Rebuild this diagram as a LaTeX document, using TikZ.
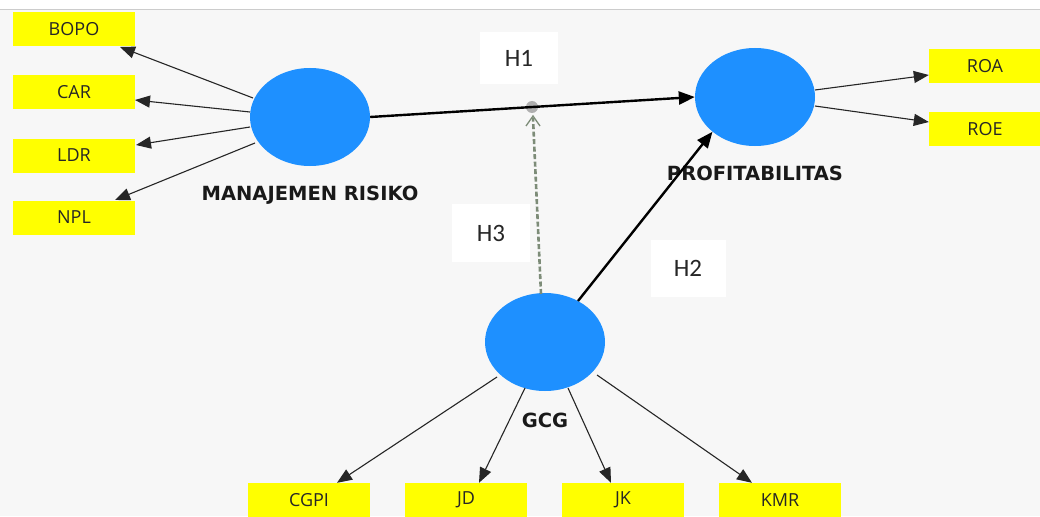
\documentclass[tikz,border=0pt]{standalone}
\usepackage{fontspec}
\setmainfont{Open Sans}
\newfontfamily\hfont{Carlito}
\newfontfamily\lfont{DejaVu Sans}
\usetikzlibrary{arrows.meta,shapes.geometric}
\definecolor{bg}{RGB}{247,247,247}
\definecolor{lv}{RGB}{30,144,255}
\definecolor{ybox}{RGB}{255,255,0}
\definecolor{dashc}{RGB}{125,140,120}
\definecolor{dotc}{RGB}{175,175,175}
\tikzset{
  ind/.style={fill=ybox, draw=none, minimum width=122pt, minimum height=34pt, inner sep=0pt, font=\fontsize{18}{20}\selectfont, text=black!85},
  lv/.style={ellipse, fill=lv, draw=none, minimum width=120pt, minimum height=98pt, inner sep=0pt},
  lvlabel/.style={font=\lfont\fontsize{19.5}{22}\selectfont\bfseries, text=black!90},
  hbox/.style={fill=white, draw=none, inner sep=0pt, font=\hfont\fontsize{25}{28}\selectfont, text=black!85},
  ld/.style={draw=black!85, line width=1.1pt, -{Triangle[length=15pt,width=12pt]}},
  pth/.style={draw=black, line width=2.4pt, -{Triangle[length=16pt,width=13pt]}},
}
\begin{document}
\begin{tikzpicture}[x=1pt,y=-1pt]
\useasboundingbox (0,0) rectangle (1040,516);
\fill[white] (0,0) rectangle (1040,10);
\fill[bg] (0,10) rectangle (1040,516);
\draw[black!20, line width=1pt] (0,10) -- (1040,10);

% indicator boxes
\node[ind] (bopo) at (74,29.5) {BOPO};
\node[ind] (car) at (74,92.5) {CAR};
\node[ind] (ldr) at (74,155.5) {LDR};
\node[ind] (npl) at (74,217.5) {NPL};
\node[ind, minimum width=112pt] (roa) at (985,66) {ROA};
\node[ind, minimum width=112pt] (roe) at (985,129) {ROE};
\node[ind] (cgpi) at (309,500) {CGPI};
\node[ind] (jd) at (466,500) {JD};
\node[ind] (jk) at (623,500) {JK};
\node[ind] (kmr) at (780,500) {KMR};

% hypothesis boxes
\node[hbox, minimum width=78pt, minimum height=52pt] (h1) at (519,58) {H1};
\node[hbox, minimum width=78pt, minimum height=58pt] (h3) at (491,233) {H3};
\node[hbox, minimum width=75pt, minimum height=57pt] (h2) at (688,268) {H2};

% latent variables
\node[lv] (mr) at (310,117) {};
\node[lv] (prof) at (755,97) {};
\node[lv] (gcg) at (545,342) {};
\node[lvlabel] (mrl) at (310,195) {MANAJEMEN RISIKO};
\node[lvlabel] (profl) at (755,173) {PROFITABILITAS};
\node[lvlabel] (gcgl) at (545,420) {GCG};

% outer loadings
\coordinate (mb) at (253,98);
\coordinate (mc) at (250,112);
\coordinate (ml) at (250,127);
\coordinate (mn) at (255,143);
\coordinate (tb) at (120,47);
\coordinate (tc) at (135,100);
\coordinate (tl) at (136,145);
\coordinate (tn) at (115,200);
\draw[ld] (mb) -- (tb);
\draw[ld] (mc) -- (tc);
\draw[ld] (ml) -- (tl);
\draw[ld] (mn) -- (tn);

\coordinate (pa) at (815,90);
\coordinate (pe) at (815,106);
\draw[ld] (pa) -- (roa.west |- 0,75);
\draw[ld] (pe) -- (roe.west |- 0,122);

\coordinate (g1) at (497,377);
\coordinate (g2) at (525,388);
\coordinate (g3) at (568,388);
\coordinate (g4) at (597,375);
\draw[ld] (g1) -- (cgpi.north -| 337,0);
\draw[ld] (g2) -- (jd.north -| 479,0);
\draw[ld] (g3) -- (jk.north -| 611,0);
\draw[ld] (g4) -- (kmr.north -| 752,0);

% structural paths
\coordinate (mod) at (532,107);
\coordinate (gtop) at (541,294);
\coordinate (gh2) at (578,301);
\fill[dotc] (mod) circle (6);
\draw[pth] (mr.east) -- (prof.west);
\draw[pth] (gh2) -- (prof.south west);
\draw[dashc, line width=2.6pt, dash pattern=on 5pt off 2.5pt] (gtop) -- (533,118);
\draw[dashc, line width=1.3pt] (526,126) -- (533,116) -- (540,126);
\end{tikzpicture}
\end{document}
